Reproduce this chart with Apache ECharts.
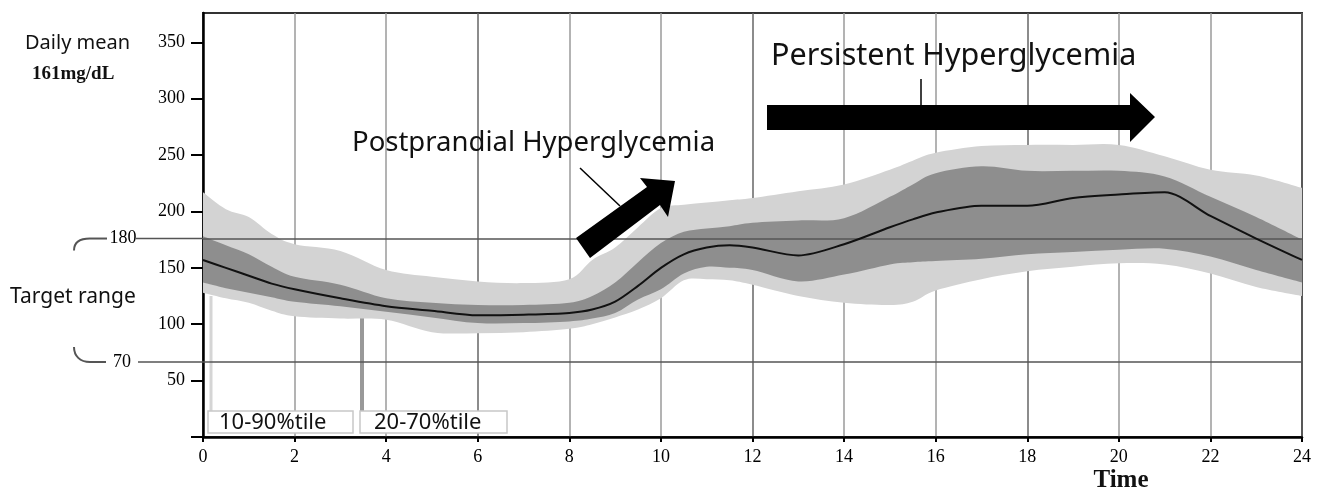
<!DOCTYPE html>
<html>
<head>
<meta charset="utf-8">
<script src="https://cdn.jsdelivr.net/npm/echarts@6/dist/echarts.min.js"></script>
<style>
  html, body { margin: 0; padding: 0; background: #fff; }
  #main { width: 1325px; height: 495px; }
</style>
</head>
<body>
<div id="main"></div>
<script>
// time of day (hours) and glucose percentiles (mg/dL)
var hours  = [0, 0.5, 1, 1.5, 2, 3, 4, 5, 6, 7, 8, 8.5, 9, 9.5, 10, 10.5, 11, 11.5, 12, 13, 14, 15, 15.5, 16, 17, 18, 19, 20, 21, 22, 23, 24];
var p90    = [217, 202, 195, 180, 171, 165, 148, 142, 138, 136.5, 140, 157, 168, 186, 203, 206, 208, 210, 212, 218, 224, 237, 245, 252, 258, 259, 259, 259, 249, 237, 232, 221];
var p10    = [128, 123, 119, 112, 107, 105, 104, 93, 92, 93, 96, 100, 106, 113, 123, 139, 140, 139, 135, 125, 119, 117, 120, 130, 140, 147, 151, 154, 153, 145, 133, 125];
var p70    = [178, 170, 162, 151, 142, 135, 123, 119, 117, 117, 119, 125, 137, 155, 172, 182, 185, 187, 190, 192, 194, 213, 224, 234, 240, 236, 236, 236, 231, 213, 195, 175];
var p20    = [137, 132, 128, 124, 120, 116, 111, 106, 101, 101, 102.5, 105, 110, 122, 131, 145, 151, 150, 148, 138, 144, 153, 155, 156, 158, 162, 164, 166, 167, 160, 148, 137];
var median = [157, 150, 143, 136, 131, 123, 116, 112, 108, 108.5, 110, 113, 120, 134, 150, 162, 168, 170, 168, 161, 171, 186, 193, 199, 205, 205, 212, 215, 217, 196, 176, 157];

// axis ticks
var yTicks = [0, 50, 100, 150, 200, 250, 300, 350];
var yLabels = [50, 100, 150, 200, 250, 300, 350];

// target range lines (position as drawn) and their labels
var targetLines  = [176, 66.5];
var targetLabels = ['180', '70'];
var legendLabels = ['10-90%tile', '20-70%tile'];

function pairs(a) {
    return hours.map(function (h, i) { return [h, a[i]]; });
}

// smooth path through pixel points (catmull-rom as cubic bezier)
function curve(pts, start) {
    var d = start ? 'M' + pts[0][0] + ' ' + pts[0][1] : 'L' + pts[0][0] + ' ' + pts[0][1];
    for (var i = 0; i < pts.length - 1; i++) {
        var p0 = pts[Math.max(i - 1, 0)], p1 = pts[i], p2 = pts[i + 1], p3 = pts[Math.min(i + 2, pts.length - 1)];
        var c1x = p1[0] + (p2[0] - p0[0]) / 6, c1y = p1[1] + (p2[1] - p0[1]) / 6;
        var c2x = p2[0] - (p3[0] - p1[0]) / 6, c2y = p2[1] - (p3[1] - p1[1]) / 6;
        d += ' C' + c1x + ' ' + c1y + ' ' + c2x + ' ' + c2y + ' ' + p2[0] + ' ' + p2[1];
    }
    return d;
}

function band(upper, lower, color) {
    return {
        type: 'custom', silent: true,
        data: [[hours[0], lower[0]]],
        renderItem: function (params, api) {
            var top = hours.map(function (h, i) { return api.coord([h, upper[i]]); });
            var bot = hours.map(function (h, i) { return api.coord([h, lower[i]]); }).reverse();
            return {
                type: 'path',
                shape: { pathData: curve(top, true) + ' ' + curve(bot, false) + ' Z' },
                style: { fill: color, stroke: null }
            };
        }
    };
}

var sans = 'Noto Sans';
var serif = 'Liberation Serif';

var chart = echarts.init(document.getElementById('main'));

var option = {
    animation: false,
    grid: {
        left: 203, right: 23, top: 13, bottom: 58,
        show: true, borderColor: '#333', borderWidth: 2
    },
    xAxis: {
        type: 'value', min: 0, max: 24, interval: 2,
        axisLine: { lineStyle: { color: '#000', width: 2.5 } },
        axisTick: { length: 5, lineStyle: { color: '#000', width: 2 } },
        axisLabel: { margin: 11, fontFamily: serif, fontSize: 18, color: '#000' },
        splitLine: { show: true, lineStyle: { color: ['#666', '#9a9a9a', '#9a9a9a'], width: 1.5 } }
    },
    yAxis: {
        type: 'value', min: 0, max: 376, interval: 50,
        axisLine: { show: true, lineStyle: { color: '#000', width: 2.5 } },
        axisTick: { show: true, length: 12, customValues: yTicks, lineStyle: { color: '#000', width: 2 } },
        axisLabel: { margin: 18, fontFamily: serif, fontSize: 18, color: '#000', customValues: yLabels },
        splitLine: { show: false }
    },
    series: [
        band(p90, p10, '#d3d3d3'),
        band(p70, p20, '#8e8e8e'),
        {   // median
            type: 'line', smooth: 0.3, symbol: 'none',
            lineStyle: { color: '#111', width: 2 },
            data: pairs(median), silent: true, z: 5,
            markLine: {
                silent: true, symbol: 'none', label: { show: false },
                lineStyle: { color: '#555', width: 1.5, type: 'solid' },
                data: targetLines.map(function (v) { return { yAxis: v }; })
            }
        }
    ]
};
chart.setOption(option);

// annotations, placed after the axes exist
var yA = chart.convertToPixel({ yAxisIndex: 0 }, targetLines[0]);
var yB = chart.convertToPixel({ yAxisIndex: 0 }, targetLines[1]);
var axisX = chart.convertToPixel({ xAxisIndex: 0 }, 0);
var ink = '#555';

var g = [];
// left bits of target lines, brackets and labels
g.push({ type: 'line', shape: { x1: 136, y1: yA, x2: axisX, y2: yA }, style: { stroke: ink, lineWidth: 1.5 }, z: 50 });
g.push({ type: 'line', shape: { x1: 138, y1: yB, x2: axisX, y2: yB }, style: { stroke: ink, lineWidth: 1.5 }, z: 50 });
g.push({ type: 'bezierCurve', shape: { x1: 74, y1: yA + 12, cpx1: 74, cpy1: yA + 4, cpx2: 80, cpy2: yA, x2: 90, y2: yA }, style: { stroke: ink, lineWidth: 2, fill: null }, z: 50 });
g.push({ type: 'line', shape: { x1: 90, y1: yA, x2: 107, y2: yA }, style: { stroke: ink, lineWidth: 2 }, z: 50 });
g.push({ type: 'bezierCurve', shape: { x1: 74, y1: yB - 15, cpx1: 74, cpy1: yB - 6, cpx2: 80, cpy2: yB, x2: 90, y2: yB }, style: { stroke: ink, lineWidth: 2, fill: null }, z: 50 });
g.push({ type: 'line', shape: { x1: 90, y1: yB, x2: 106, y2: yB }, style: { stroke: ink, lineWidth: 2 }, z: 50 });
g.push({ type: 'text', x: 123, y: yA, style: { text: targetLabels[0], font: '18px "' + serif + '"', fill: '#000', textAlign: 'center', textVerticalAlign: 'middle' }, z: 50 });
g.push({ type: 'text', x: 122, y: yB, style: { text: targetLabels[1], font: '18px "' + serif + '"', fill: '#000', textAlign: 'center', textVerticalAlign: 'middle' }, z: 50 });

g.push({ type: 'text', x: 25, y: 43, style: { text: 'Daily mean', font: '20px "' + sans + '"', fill: '#111', textVerticalAlign: 'middle' }, z: 50 });
g.push({ type: 'text', x: 32, y: 74, style: { text: '161mg/dL', font: 'bold 19px "' + serif + '"', fill: '#111', textVerticalAlign: 'middle' }, z: 50 });
g.push({ type: 'text', x: 10, y: 297, style: { text: 'Target range', font: '21px "' + sans + '"', fill: '#111', textVerticalAlign: 'middle' }, z: 50 });
g.push({ type: 'text', x: 1121, y: 481, style: { text: 'Time', font: 'bold 25px "' + serif + '"', fill: '#111', textAlign: 'center', textVerticalAlign: 'middle' }, z: 50 });

// legend leader lines and boxes
g.push({ type: 'line', shape: { x1: 211, y1: 296, x2: 211, y2: 411 }, style: { stroke: '#d5d5d5', lineWidth: 3 }, z: 1 });
g.push({ type: 'line', shape: { x1: 362, y1: 310, x2: 362, y2: 411 }, style: { stroke: '#999', lineWidth: 4 }, z: 1 });
g.push({ type: 'rect', shape: { x: 208, y: 411, width: 145, height: 22 }, style: { fill: '#fff', stroke: '#c8c8c8', lineWidth: 1.5 }, z: 50 });
g.push({ type: 'rect', shape: { x: 360, y: 411, width: 147, height: 22 }, style: { fill: '#fff', stroke: '#c8c8c8', lineWidth: 1.5 }, z: 50 });
g.push({ type: 'text', x: 219, y: 423, style: { text: legendLabels[0], font: '22px "' + sans + '"', fill: '#111', textVerticalAlign: 'middle' }, z: 51 });
g.push({ type: 'text', x: 374, y: 423, style: { text: legendLabels[1], font: '22px "' + sans + '"', fill: '#111', textVerticalAlign: 'middle' }, z: 51 });

// postprandial arrow
g.push({ type: 'text', x: 352, y: 143, style: { text: 'Postprandial Hyperglycemia', font: '27.5px "' + sans + '"', fill: '#111', textVerticalAlign: 'middle' }, z: 60 });
g.push({ type: 'line', shape: { x1: 580, y1: 168, x2: 620, y2: 206 }, style: { stroke: '#000', lineWidth: 1.5 }, z: 60 });
g.push({ type: 'polygon', shape: { points: [[576, 238], [647, 187], [640, 178], [675, 181], [668, 217], [660, 205], [590, 258]] }, style: { fill: '#000' }, z: 60 });

// persistent arrow
g.push({ type: 'text', x: 771, y: 56, style: { text: 'Persistent Hyperglycemia', font: '30.5px "' + sans + '"', fill: '#111', textVerticalAlign: 'middle' }, z: 60 });
g.push({ type: 'line', shape: { x1: 921, y1: 79, x2: 921, y2: 106 }, style: { stroke: '#000', lineWidth: 1.5 }, z: 60 });
g.push({ type: 'polygon', shape: { points: [[767, 105], [1130, 105], [1130, 93], [1155, 117], [1130, 142], [1130, 130], [767, 130]] }, style: { fill: '#000' }, z: 60 });

chart.setOption({ graphic: g });
</script>
</body>
</html>
